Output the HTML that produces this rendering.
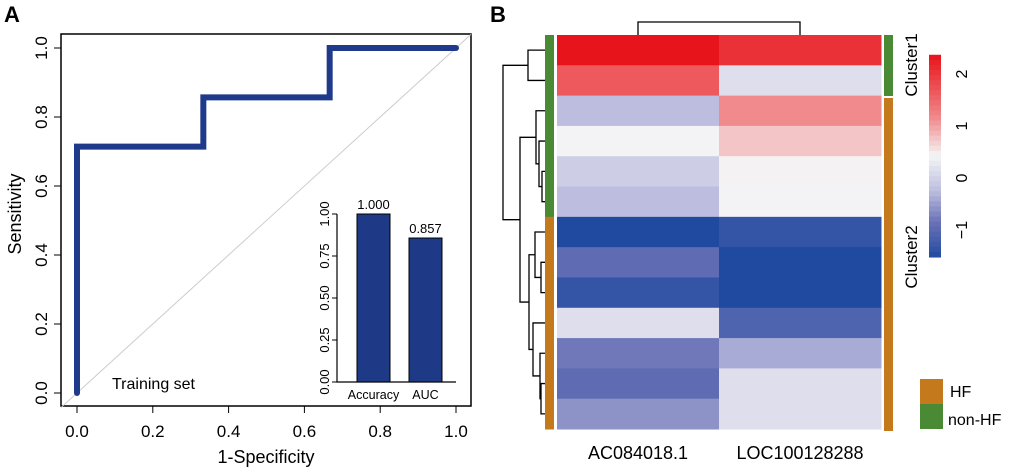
<!DOCTYPE html>
<html><head><meta charset="utf-8"><style>
body{margin:0;background:#fff;}
svg{display:block;font-family:"Liberation Sans",sans-serif;}
</style></head><body>
<svg id="c" width="1020" height="470"></svg>
<script>
const rocFpr=[0,0,1/3,1/3,2/3,2/3,1];
const rocTpr=[0,0.714,0.714,0.857,0.857,1,1];
const axTicks=[0,0.2,0.4,0.6,0.8,1.0];
const axTickLabels=["0.0","0.2","0.4","0.6","0.8","1.0"];
const barCats=["Accuracy","AUC"];
const barVals=[1.000,0.857];
const barTicks=[0,0.25,0.5,0.75,1.0];
const barTickLabels=["0.00","0.25","0.50","0.75","1.00"];
const genes=["AC084018.1","LOC100128288"];
const heatCol1=[2.4,1.7,-0.2,0.45,0.0,-0.2,-1.5,-0.9,-1.3,0.2,-0.75,-0.9,-0.55];
const heatCol2=[2.1,0.2,1.2,0.8,0.5,0.45,-1.3,-1.5,-1.5,-1.05,-0.35,0.2,0.2];
const rowGroup=["non","non","non","non","non","non","hf","hf","hf","hf","hf","hf","hf"];
const cbTicks=[2,1,0,-1];
const cbTickLabels=["2","1","0","\u22121"];

const NS="http://www.w3.org/2000/svg";
const svg=document.getElementById('c');
function mk(t,a,p){const e=document.createElementNS(NS,t);for(const k in a)e.setAttribute(k,a[k]);(p||svg).appendChild(e);return e;}
function txt(s,a,p){const e=mk('text',a,p);e.textContent=s;return e;}

// Panel A
let t=txt("A",{x:4,y:22,'font-size':22,'font-weight':'bold'});

const X=v=>77+v*(456-77), Y=v=>393-v*(393-48);
let r=mk('rect',{x:61,y:34,width:410,height:372,fill:'none',stroke:'#000','stroke-width':1.5});

let d=mk('line',{x1:61,y1:Y(-(77-61)/379),x2:471,y2:Y((471-77)/379),stroke:'#ccc','stroke-width':1});

axTicks.forEach((v,i)=>{
 let l=mk('line',{x1:X(v),x2:X(v),y1:406,y2:413,stroke:'#000'});
 
 let s=txt(axTickLabels[i],{x:X(v),y:437,'font-size':17,'text-anchor':'middle'});
 
 let l2=mk('line',{x1:54,x2:61,y1:Y(v),y2:Y(v),stroke:'#000'});
 
 let s2=txt(axTickLabels[i],{x:0,y:0,'font-size':17,'text-anchor':'middle',transform:`translate(47,${Y(v)}) rotate(-90)`});
 
});
t=txt("1-Specificity",{x:266,y:463,'font-size':18,'text-anchor':'middle'});

t=txt("Sensitivity",{x:0,y:0,'font-size':18,'text-anchor':'middle',transform:'translate(21,214) rotate(-90)'});

let roc=mk('polyline',{points:rocFpr.map((f,i)=>X(f)+','+Y(rocTpr[i])).join(' '),fill:'none',stroke:'#1f3a8a','stroke-width':6,'stroke-linecap':'round'});

t=txt("Training set",{x:112,y:389,'font-size':16});

// inset bar
const BY=v=>382-v*(382-214);
let ax=mk('polyline',{points:`337,${BY(1)} 337,382 456,382`,fill:'none',stroke:'#000','stroke-width':1.2});

barTicks.forEach((v,i)=>{
 let l=mk('line',{x1:332,x2:337,y1:BY(v),y2:BY(v),stroke:'#000'});
 
 let s=txt(barTickLabels[i],{x:0,y:0,'font-size':13,'text-anchor':'middle',transform:`translate(329,${BY(v)}) rotate(-90)`});
 
});
barCats.forEach((c,i)=>{
 const x0=357+i*52;
 let b=mk('rect',{x:x0,y:BY(barVals[i]),width:33,height:382-BY(barVals[i]),fill:'#1e3a86',stroke:'#000','stroke-width':1});
 
 let v=txt(barVals[i].toFixed(3),{x:x0+16.5,y:BY(barVals[i])-5,'font-size':13,'text-anchor':'middle'});
 
 let l=txt(c,{x:x0+16.5,y:399,'font-size':12.5,'text-anchor':'middle'});
 
});

// Panel B
t=txt("B",{x:490,y:22,'font-size':22,'font-weight':'bold'});

const stops=[[-1.5,[31,74,160]],[-0.8,[106,114,182]],[-0.2,[189,190,223]],[0.48,[245,245,246]],[1.2,[240,138,140]],[2.4,[232,20,28]]];
function col(v){v=Math.max(-1.5,Math.min(2.4,v));for(let i=1;i<stops.length;i++){if(v<=stops[i][0]){const a=stops[i-1],b=stops[i],f=(v-a[0])/(b[0]-a[0]);return 'rgb('+a[1].map((c,k)=>Math.round(c+(b[1][k]-c)*f)).join(',')+')';}}return 'rgb(232,20,28)';}
const HX0=557,HX1=881,HY0=35,HY1=429,n=heatCol1.length,rh=(HY1-HY0)/n,cw=(HX1-HX0)/2;
[heatCol1,heatCol2].forEach((arr,ci)=>arr.forEach((v,ri)=>{
 let c=mk('rect',{x:HX0+ci*cw,y:HY0+ri*rh,width:cw+0.5,height:rh+0.5,fill:col(v)});
 
}));
genes.forEach((g,i)=>{let s=txt(g,{x:HX0+cw*(i+0.5),y:459,'font-size':18,'text-anchor':'middle'});
 });
rowGroup.forEach((g,ri)=>{let b=mk('rect',{x:545,y:HY0+ri*rh,width:9,height:rh+0.5,fill:g==='hf'?'#c47a1c':'#4a8a35'});
 });
let c1=mk('rect',{x:884,y:35,width:9,height:61,fill:'#4a8a35'});
let c2=mk('rect',{x:884,y:98,width:9,height:333,fill:'#c47a1c'});
t=txt("Cluster1",{x:0,y:0,'font-size':17,'text-anchor':'middle',transform:'translate(917,65) rotate(-90)'});

t=txt("Cluster2",{x:0,y:0,'font-size':17,'text-anchor':'middle',transform:'translate(917,257) rotate(-90)'});

let cd=mk('polyline',{points:`638,35 638,22 800,22 800,35`,fill:'none',stroke:'#000','stroke-width':1.3});

const yc=i=>HY0+(i+0.5)*rh;
const dg=mk('g',{fill:'none',stroke:'#000','stroke-width':1.3});

function join(xa,ya,xb,yb,xm){mk('path',{d:`M${xa},${ya}H${xm}V${yb}H${xb}`},dg);return (ya+yb)/2;}
const L=545;
let a01=join(L,yc(0),L,yc(1),528);
let a45=join(L,yc(4),L,yc(5),542);
let a345=join(L,yc(3),542,a45,539);
let a2_5=join(L,yc(2),539,a345,536);
let a78=join(L,yc(7),L,yc(8),541);
let a678=join(L,yc(6),541,a78,535);
let a1112=join(L,yc(11),L,yc(12),541);
let a10_12=join(L,yc(10),541,a1112,540);
let a9_12=join(L,yc(9),540,a10_12,533);
let a6_12=join(535,a678,533,a9_12,529);
let a2_12=join(536,a2_5,529,a6_12,520);
join(528,a01,520,a2_12,503);
const CY=v=>178-52*v;
for(let k=0;k<40;k++){const v=2.37-k*(3.89/40);
 let s=mk('rect',{x:929,y:CY(v),width:12,height:3.89*52/40+0.5,fill:col(v)});
 }
cbTicks.forEach((v,i)=>{let s=txt(cbTickLabels[i],{x:0,y:0,'font-size':16,'text-anchor':'middle',transform:`translate(967,${CY(v)}) rotate(-90)`});
 });
let lg1=mk('rect',{x:920,y:379,width:23,height:25,fill:'#c47a1c'});
let lg2=mk('rect',{x:920,y:404,width:23,height:25,fill:'#4a8a35'});
t=txt("HF",{x:950,y:397,'font-size':16});
t=txt("non-HF",{x:948,y:425,'font-size':16});
</script>
</body></html>
